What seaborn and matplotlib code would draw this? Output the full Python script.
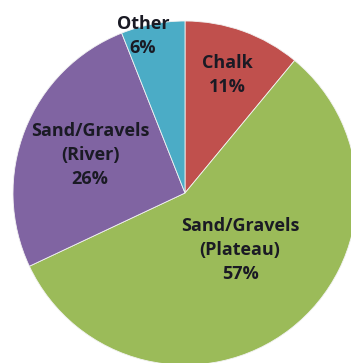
import matplotlib
matplotlib.use("Agg")
import matplotlib.pyplot as plt
import seaborn as sns

categories = ["Chalk", "Sand/Gravels\n(Plateau)", "Sand/Gravels\n(River)", "Other"]
values = [11, 57, 26, 6]
colors = ["#C0504D", "#9BBB59", "#8064A2", "#4BACC6"]
# label centres in pie-radius units
label_pos = [(0.244, 0.686), (0.320, -0.331), (-0.552, 0.221), (-0.244, 0.913)]

sns.set_theme(style="white")
plt.rcParams['font.family'] = ['Open Sans', 'DejaVu Sans']

fig = plt.figure(figsize=(3.51, 3.63), dpi=100)
fig.patch.set_facecolor("white")
R = 172
cx, cy = 185, 193
W, H = 351, 363
ax = fig.add_axes([(cx - R) / W, (H - cy - R) / H, 2 * R / W, 2 * R / H])
wedges, _ = ax.pie(values, colors=colors, startangle=90, counterclock=False,
                   radius=1, wedgeprops=dict(edgecolor="#f2f2f2", linewidth=0.6))
for w in wedges:
    w.set_clip_on(False)
ax.set_xlim(-1, 1)
ax.set_ylim(-1, 1)
ax.axis("off")

for cat, v, (x, y) in zip(categories, values, label_pos):
    ax.text(x, y, f"{cat}\n{v}%", ha="center", va="center", fontsize=13,
            fontweight="bold", color="#1a1a24", linespacing=1.45, clip_on=False)

fig.savefig("out.png", dpi=100)
